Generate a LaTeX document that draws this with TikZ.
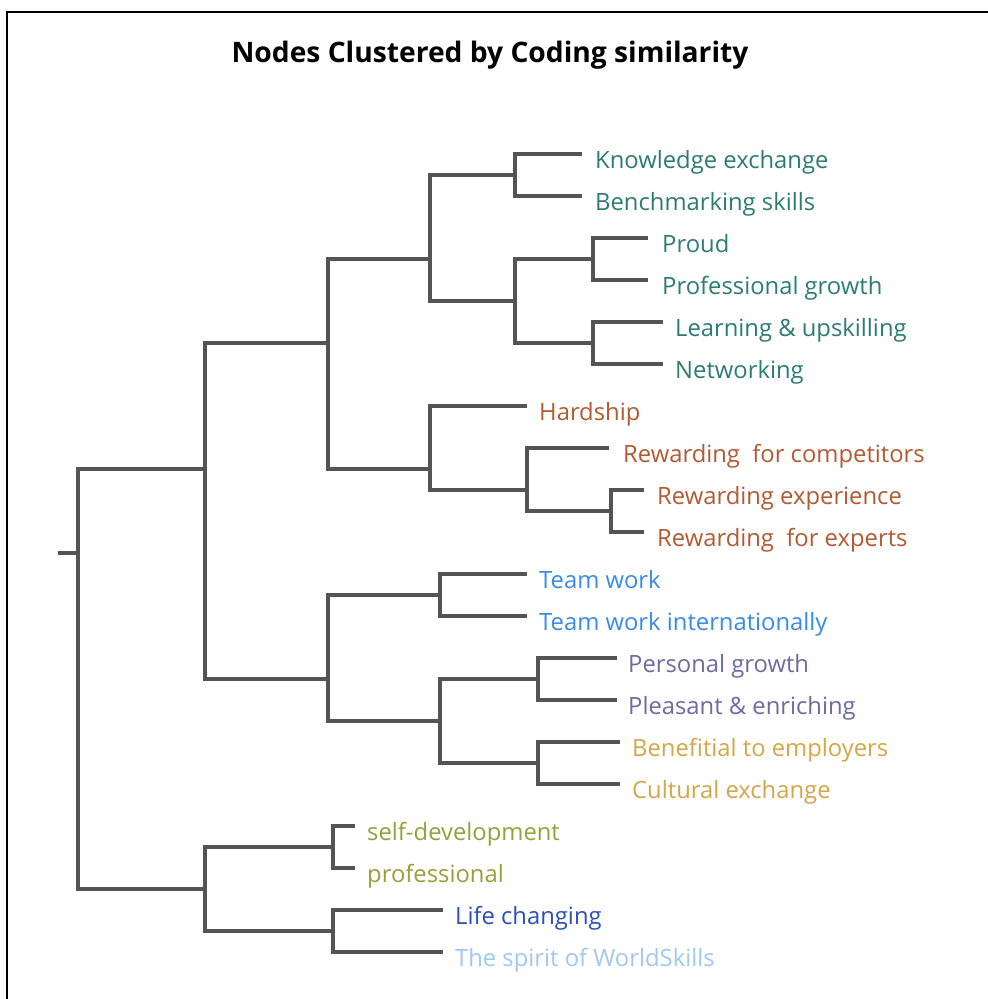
\documentclass[tikz,border=0pt]{standalone}
\usepackage{fontspec}
\setmainfont{Open Sans}
\definecolor{cteal}{RGB}{44,124,116}
\definecolor{crust}{RGB}{178,90,50}
\definecolor{cteam}{RGB}{56,140,228}
\definecolor{cviolet}{RGB}{108,108,160}
\definecolor{cgold}{RGB}{212,166,72}
\definecolor{colive}{RGB}{150,160,60}
\definecolor{clife}{RGB}{44,80,182}
\definecolor{cspirit}{RGB}{160,200,242}
\definecolor{cline}{RGB}{84,84,84}
\tikzset{
  link/.style={draw=cline, line width=3.2pt, line join=miter},
  frame/.style={draw=black, line width=2.5pt},
  leaf/.style={anchor=base west, inner sep=0pt, font=\fontsize{23.8}{26}\selectfont},
  heading/.style={anchor=base, inner sep=0pt, font=\fontsize{28.2}{30}\selectfont\bfseries}
}
\begin{document}
\begin{tikzpicture}[x=1pt, y=-1pt]
\useasboundingbox (0,0) rectangle (988,999);
\fill[white] (0,0) rectangle (988,999);
% frame
\coordinate (f1) at (7,999);
\coordinate (f2) at (7,12);
\coordinate (f3) at (988,12);
\draw[frame] (f1) -- (f2) -- (f3);
% title
\node[heading] (title) at (490,62) {Nodes Clustered by Coding similarity};

% leaf line ends
\coordinate (k0) at (582,154);
\coordinate (k1) at (582,196);
\coordinate (k2) at (648,238);
\coordinate (k3) at (648,280);
\coordinate (k4) at (663,322);
\coordinate (k5) at (663,364);
\coordinate (k6) at (527,406);
\coordinate (k7) at (609,448);
\coordinate (k8) at (644,490);
\coordinate (k9) at (644,532);
\coordinate (k10) at (527,574);
\coordinate (k11) at (527,616);
\coordinate (k12) at (617,658);
\coordinate (k13) at (617,700);
\coordinate (k14) at (620,742);
\coordinate (k15) at (620,784);
\coordinate (k16) at (355,826);
\coordinate (k17) at (355,868);
\coordinate (k18) at (443,910);
\coordinate (k19) at (443,952);

% internal joins
\coordinate (jA) at (515,175);
\coordinate (jC) at (593,259);
\coordinate (jE) at (593,343);
\coordinate (jD) at (515,301);
\coordinate (jB) at (430,259);
\coordinate (jG) at (611,511);
\coordinate (jH) at (527,490);
\coordinate (jI) at (430,469);
\coordinate (jF) at (328,343);
\coordinate (jK) at (440,595);
\coordinate (jN) at (538,679);
\coordinate (jO) at (538,763);
\coordinate (jP) at (440,721);
\coordinate (jM) at (328,679);
\coordinate (jJ) at (205,469);
\coordinate (jS) at (333,847);
\coordinate (jU) at (333,931);
\coordinate (jT) at (205,889);
\coordinate (jR) at (78,553);
\coordinate (stub) at (58,553);

% labels
\node[leaf, text=cteal] (t0) at (595,168) {Knowledge exchange};
\node[leaf, text=cteal] (t1) at (595,210) {Benchmarking skills};
\node[leaf, text=cteal] (t2) at (662,252) {Proud};
\node[leaf, text=cteal] (t3) at (662,294) {Professional growth};
\node[leaf, text=cteal] (t4) at (675,336) {Learning \& upskilling};
\node[leaf, text=cteal] (t5) at (675,378) {Networking};
\node[leaf, text=crust] (t6) at (539,420) {Hardship};
\node[leaf, text=crust] (t7) at (623,462) {Rewarding\ \ for competitors};
\node[leaf, text=crust] (t8) at (657,504) {Rewarding experience};
\node[leaf, text=crust] (t9) at (657,546) {Rewarding\ \ for experts};
\node[leaf, text=cteam] (t10) at (539,588) {Team work};
\node[leaf, text=cteam] (t11) at (539,630) {Team work internationally};
\node[leaf, text=cviolet] (t12) at (628,672) {Personal growth};
\node[leaf, text=cviolet] (t13) at (628,714) {Pleasant \& enriching};
\node[leaf, text=cgold] (t14) at (632,756) {Benefitial to employers};
\node[leaf, text=cgold] (t15) at (632,798) {Cultural exchange};
\node[leaf, text=colive] (t16) at (367,840) {self-development};
\node[leaf, text=colive] (t17) at (367,882) {professional};
\node[leaf, text=clife] (t18) at (455,924) {Life changing};
\node[leaf, text=cspirit] (t19) at (455,966) {The spirit of WorldSkills};

% brackets: child -- elbow -- elbow -- child
\draw[link] (k0) -- (jA |- k0) -- (jA |- k1) -- (k1);
\draw[link] (k2) -- (jC |- k2) -- (jC |- k3) -- (k3);
\draw[link] (k4) -- (jE |- k4) -- (jE |- k5) -- (k5);
\draw[link] (jC) -- (jD |- jC) -- (jD |- jE) -- (jE);
\draw[link] (jA) -- (jB |- jA) -- (jB |- jD) -- (jD);
\draw[link] (k8) -- (jG |- k8) -- (jG |- k9) -- (k9);
\draw[link] (k7) -- (jH |- k7) -- (jH |- jG) -- (jG);
\draw[link] (k6) -- (jI |- k6) -- (jI |- jH) -- (jH);
\draw[link] (jB) -- (jF |- jB) -- (jF |- jI) -- (jI);
\draw[link] (k10) -- (jK |- k10) -- (jK |- k11) -- (k11);
\draw[link] (k12) -- (jN |- k12) -- (jN |- k13) -- (k13);
\draw[link] (k14) -- (jO |- k14) -- (jO |- k15) -- (k15);
\draw[link] (jN) -- (jP |- jN) -- (jP |- jO) -- (jO);
\draw[link] (jK) -- (jM |- jK) -- (jM |- jP) -- (jP);
\draw[link] (jF) -- (jJ |- jF) -- (jJ |- jM) -- (jM);
\draw[link] (k16) -- (jS |- k16) -- (jS |- k17) -- (k17);
\draw[link] (k18) -- (jU |- k18) -- (jU |- k19) -- (k19);
\draw[link] (jS) -- (jT |- jS) -- (jT |- jU) -- (jU);
\draw[link] (jJ) -- (jR |- jJ) -- (jR |- jT) -- (jT);
\draw[link] (stub) -- (jR);
\end{tikzpicture}
\end{document}
